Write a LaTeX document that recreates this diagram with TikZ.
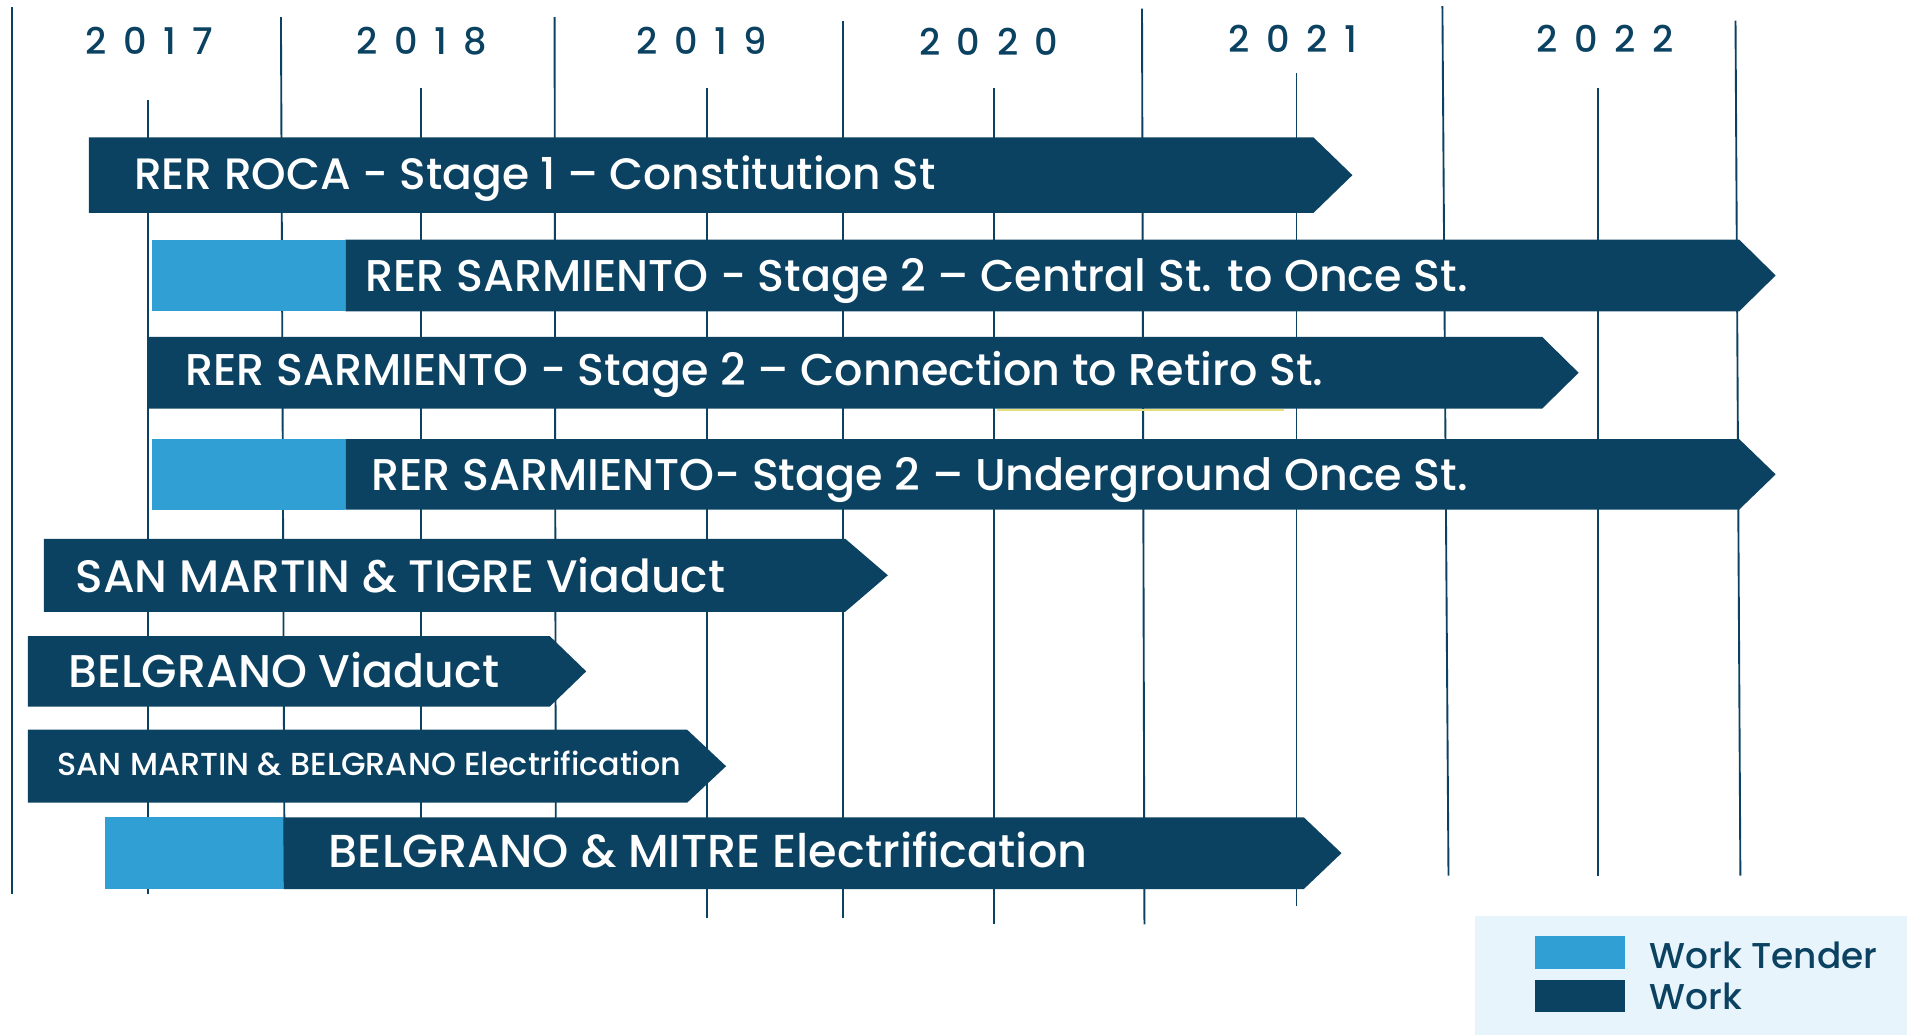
\documentclass[tikz,border=0pt]{standalone}
\usepackage{fontspec}
\setmainfont{Poppins}
\newfontfamily\medfont{Poppins Medium}
\definecolor{navy}{HTML}{0B4261}
\definecolor{tender}{HTML}{2F9FD4}
\definecolor{legbg}{HTML}{E8F4FC}
\definecolor{yel}{HTML}{E6E07A}
\newcommand{\gbar}[6]{%
  % #1 name, #2 x0, #3 x1 (end of rect), #4 tip, #5 ytop, #6 ybot
  \fill[navy] (#2,#5) -- (#3,#5) -- (#4,{(#5+#6)/2}) -- (#3,#6) -- (#2,#6) -- cycle;
}
\begin{document}
\begin{tikzpicture}[x=0.025cm,y=-0.025cm,
  gridline/.style={draw=navy,line width=1.1pt},
  lbl/.style={text=white,anchor=base west,inner sep=0pt,font=\medfont\fontsize{#1}{#1}\selectfont},
  lbl/.default=25.5,
  yr/.style={text=navy,anchor=base,inner sep=0pt,font=\medfont\fontsize{21.5}{21.5}\selectfont\addfontfeatures{LetterSpace=45}},
  leg/.style={text=navy,anchor=base west,inner sep=0pt,font=\medfont\fontsize{21}{21}\selectfont}]
\useasboundingbox (0,0) rectangle (1568,851);
% grid lines
\draw[gridline] (10,6) -- (10,735);
\draw[gridline] (122,82) -- (122,735);
\draw[gridline] (231,14) -- (234,725);
\draw[gridline] (346,72) -- (346,725);
\draw[gridline] (456,14) -- (457,725);
\draw[gridline] (581,72) -- (581,755);
\draw[gridline] (693,17) -- (693,755);
\draw[gridline] (817,72) -- (817,760);
\draw[gridline] (939,7) -- (941,760);
\draw[gridline] (1066,60) -- (1066,745);
\draw[gridline] (1186,5) -- (1191,720);
\draw[gridline] (1314,72) -- (1314,720);
\draw[gridline] (1427,17) -- (1431,720);
% years
\node[yr] (y17) at (123,45) {2017};
\node[yr] (y18) at (347,45) {2018};
\node[yr] (y19) at (577,45) {2019};
\node[yr] (y20) at (813,46) {2020};
\node[yr] (y21) at (1063,43) {2021};
\node[yr] (y22) at (1320,43) {2022};
% bars
\gbar{b1}{73}{1080}{1112}{113}{175}
\node[lbl=25.7] (t1) at (110,156) {RER ROCA - Stage 1 – Constitution St};
\gbar{b2}{284}{1430}{1460}{197}{256}
\fill[tender] (125,197) rectangle (284,256);
\node[lbl=26] (t2) at (300,240) {RER SARMIENTO - Stage 2 – Central St. to Once St.};
\gbar{b3}{122}{1268}{1298}{277}{336}
\draw[yel,line width=1pt] (820,337) -- (1056,337);
\node[lbl=26] (t3) at (152,317) {RER SARMIENTO - Stage 2 – Connection to Retiro St.};
\gbar{b4}{284}{1430}{1460}{361}{419}
\fill[tender] (125,361) rectangle (284,419);
\node[lbl=26] (t4) at (305,403) {RER SARMIENTO- Stage 2 – Underground Once St.};
\gbar{b5}{36}{695}{730}{443}{503}
\node[lbl=26.6] (t5) at (62,487) {SAN MARTIN \& TIGRE Viaduct};
\gbar{b6}{23}{452}{482}{523}{581}
\node[lbl=26.8] (t6) at (56,565) {BELGRANO Viaduct};
\gbar{b7}{23}{565}{597}{600}{660}
\node[lbl=18.6] (t7) at (47,638) {SAN MARTIN \& BELGRANO Electrification};
\gbar{b8}{233}{1072}{1103}{672}{731}
\fill[tender] (86,672) rectangle (233,731);
\node[lbl=27] (t8) at (270,713) {BELGRANO \& MITRE Electrification};
% legend
\fill[legbg] (1213,753) rectangle (1568,851);
\fill[tender] (1262,770) rectangle (1336,797);
\fill[navy] (1262,806) rectangle (1336,832);
\node[leg] (l1) at (1356,796) {Work Tender};
\node[leg] (l2) at (1356,830) {Work};
\end{tikzpicture}
\end{document}
